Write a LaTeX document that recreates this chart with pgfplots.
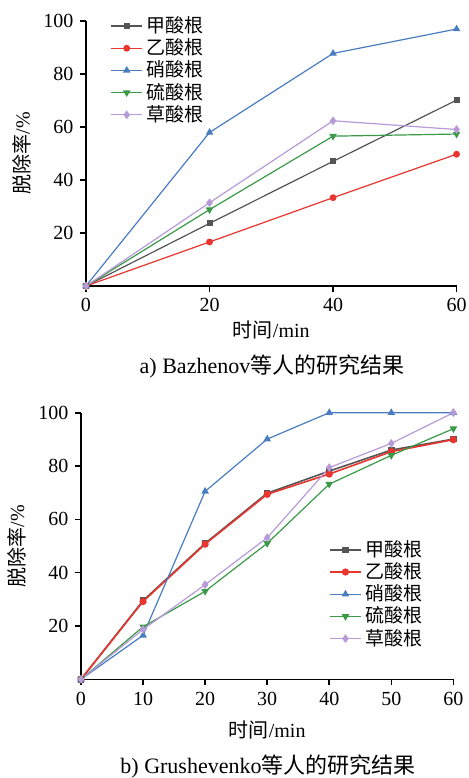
\documentclass[border=0pt]{standalone}
\usepackage{fontspec}
\usepackage{pgfplots}
\pgfplotsset{compat=1.18}
\setmainfont{Liberation Serif}
\newfontfamily\cjk{Noto Sans CJK SC}

\definecolor{cgray}{HTML}{555555}
\definecolor{cred}{HTML}{E8352E}
\definecolor{cblue}{HTML}{4A7CC0}
\definecolor{cgreen}{HTML}{3A9A48}
\definecolor{cpurple}{HTML}{B79AD8}

\pgfplotsset{
  rate/.style={
    scale only axis,
    axis x line*=bottom, axis y line*=left,
    axis line style={-, line width=0.8pt, black},
    tick align=outside, major tick length=2.8pt,
    tick style={line width=0.8pt, black},
    xmin=0, xmax=60, ymin=0, ymax=100,
    ytick={20,40,60,80,100},
    /pgf/number format/assume math mode=true,
    tick label style={font=\fontsize{10}{12}\selectfont},
    label style={font=\fontsize{10}{12}\selectfont},
    xlabel={{\cjk 时间}/min},
    ylabel={{\cjk 脱除率}/\%},
    ylabel style={at={(axis description cs:-0.173,0.5)}, anchor=center},
    legend cell align=left,
    legend image code/.code={%
      \draw[mark repeat=2, mark phase=2, ##1]
        plot coordinates {(0pt,0pt) (7.75pt,0pt) (15.5pt,0pt)};},
    legend style={draw=none, fill=none, font=\fontsize{9.5}{11}\selectfont,
      row sep=-2.4pt, inner sep=1pt},
    clip=false,
  },
  s1/.style={cgray, line width=0.6pt, mark=square*, mark size=1.2pt, mark options={fill=cgray}},
  s2/.style={cred, line width=0.6pt, mark=*, mark size=1.4pt, mark options={fill=cred}},
  s3/.style={cblue, line width=0.6pt, mark=triangle*, mark size=1.6pt, mark options={fill=cblue}},
  s4/.style={cgreen, line width=0.6pt, mark=triangle*, mark size=1.6pt, mark options={fill=cgreen, rotate=180}},
  s5/.style={cpurple, line width=0.6pt, mark=diamond*, mark size=1.7pt, mark options={fill=cpurple}},
}

\begin{document}
\begin{tikzpicture}
\useasboundingbox (0,0) rectangle (234.5pt,389pt);

% a) Bazhenov
\begin{axis}[rate,
  at={(43pt,246pt)}, anchor=south west,
  width=185.3pt, height=132.6pt,
  xtick={0,20,40,60},
  xlabel style={at={(axis description cs:0.5,-0.166)}, anchor=center},
  legend style={at={(axis description cs:0.06,1.04)}, anchor=north west},
]
\addplot[s1] coordinates {(0,0) (20,23.6) (40,47.0) (60,70.1)};
\addplot[s2] coordinates {(0,0) (20,16.6) (40,33.3) (60,49.7)};
\addplot[s3] coordinates {(0,0) (20,57.9) (40,87.7) (60,96.9)};
\addplot[s4] coordinates {(0,0) (20,28.8) (40,56.5) (60,57.3)};
\addplot[s5] coordinates {(0,0) (20,31.4) (40,62.3) (60,59.0)};
\legend{{\cjk 甲酸根},{\cjk 乙酸根},{\cjk 硝酸根},{\cjk 硫酸根},{\cjk 草酸根}}
\end{axis}
\node[font=\fontsize{11}{13}\selectfont] at (136pt,205.5pt) {a) Bazhenov{\cjk 等人的研究结果}};

% b) Grushevenko
\begin{axis}[rate,
  at={(40.5pt,49.35pt)}, anchor=south west,
  width=186.2pt, height=133.3pt,
  xtick={0,10,20,30,40,50,60},
  xlabel style={at={(axis description cs:0.5,-0.19)}, anchor=center},
  legend style={at={(axis description cs:0.66,0.545)}, anchor=north west},
]
\addplot[s1, line width=0.8pt] coordinates {(0,0) (10,29.5) (20,51.0) (30,69.8) (40,78.1) (50,86.0) (60,90.1)};
\addplot[s2, line width=0.8pt] coordinates {(0,0) (10,29.2) (20,50.7) (30,69.4) (40,77.0) (50,85.4) (60,89.9)};
\addplot[s3] coordinates {(0,0) (10,16.5) (20,70.5) (30,90.1) (40,100) (50,100) (60,100)};
\addplot[s4] coordinates {(0,0) (10,19.7) (20,33.0) (30,51.0) (40,73.2) (50,84.0) (60,94.0)};
\addplot[s5] coordinates {(0,0) (10,18.7) (20,35.5) (30,53.1) (40,79.4) (50,88.5) (60,100)};
\legend{{\cjk 甲酸根},{\cjk 乙酸根},{\cjk 硝酸根},{\cjk 硫酸根},{\cjk 草酸根}}
\end{axis}
\node[font=\fontsize{11}{13}\selectfont] at (134pt,5.5pt) {b) Grushevenko{\cjk 等人的研究结果}};
\end{tikzpicture}
\end{document}
